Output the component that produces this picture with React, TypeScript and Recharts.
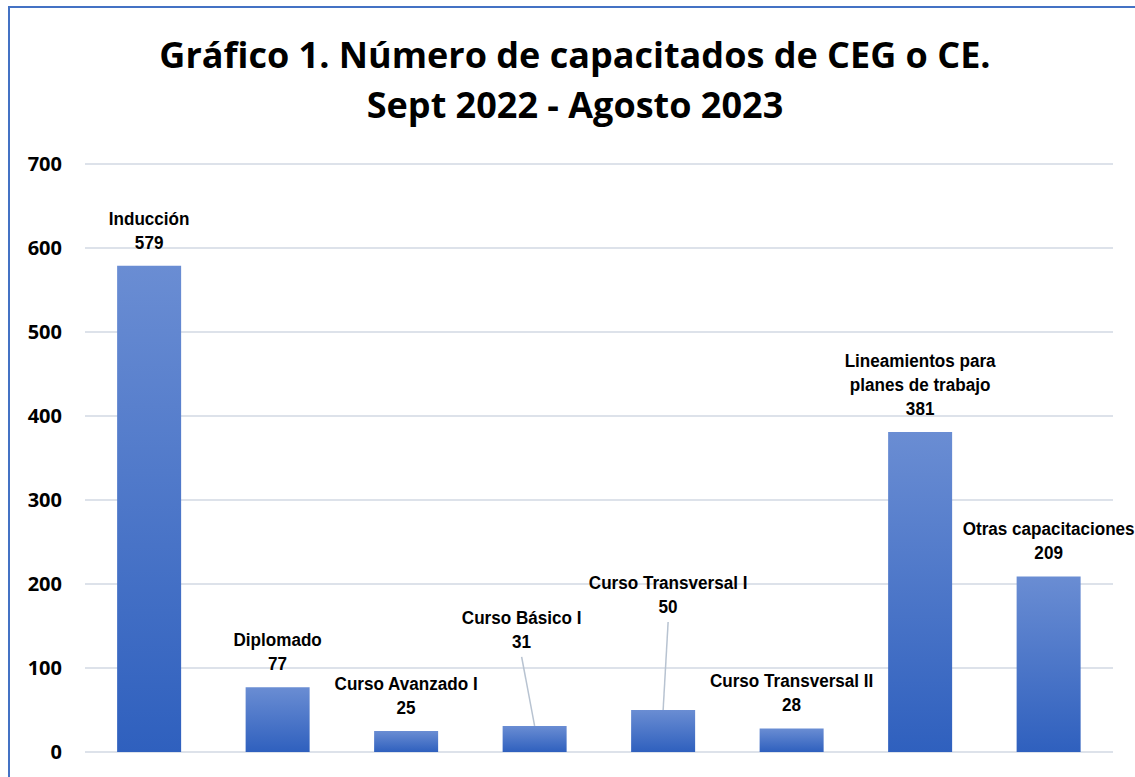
import { Bar, BarChart, CartesianGrid, LabelList, XAxis, YAxis } from "recharts";

const CATEGORIES = [
  "Inducción",
  "Diplomado",
  "Curso Avanzado I",
  "Curso Básico I",
  "Curso Transversal I",
  "Curso Transversal II",
  "Lineamientos para planes de trabajo",
  "Otras capacitaciones",
];

const CAPACITADOS = [579, 77, 25, 31, 50, 28, 381, 209];

const Y_TICKS = [0, 100, 200, 300, 400, 500, 600, 700];

const TITLE_LINES = [
  "Gráfico 1. Número de capacitados de CEG o CE.",
  "Sept 2022 - Agosto 2023",
];

const data = CATEGORIES.map((name, i) => ({ name, value: CAPACITADOS[i] }));

// labels that were dragged up in the original, with a leader line back to the bar
const LABEL_NUDGE: Record<string, [number, number]> = {
  "Curso Básico I": [-13, -61],
  "Curso Transversal I": [5, -80],
};

const LABEL_FONT = "'Liberation Sans Narrow', 'Arial Narrow', 'Liberation Sans', Arial, sans-serif";
const AXIS_FONT = "'Open Sans', 'Noto Sans', sans-serif";

function wrapName(name: string): string[] {
  if (name.length <= 22) return [name];
  // "Lineamientos para / planes de trabajo"
  const words = name.split(" ");
  return [words.slice(0, 2).join(" "), words.slice(2).join(" ")];
}

function BarLabel(props: any) {
  const { x, y, width, index } = props;
  const name = CATEGORIES[index];
  const value = CAPACITADOS[index];
  const [dx, dy] = LABEL_NUDGE[name] ?? [0, 0];
  const barCx = Number(x) + Number(width) / 2;
  const cx = barCx + dx;
  const lines = [...wrapName(name), String(value)];
  const lastCenter = Number(y) - 24 + dy;
  return (
    <g>
      {dy !== 0 && (
        <line
          x1={cx}
          y1={lastCenter + 16}
          x2={barCx}
          y2={Number(y)}
          stroke="#b8c3d1"
          strokeWidth={1.5}
        />
      )}
      {lines.map((line, i) => (
        <text
          key={i}
          x={0}
          y={lastCenter - (lines.length - 1 - i) * 24 + 7}
          transform={`translate(${cx},0) scale(0.9,1)`}
          textAnchor="middle"
          fontFamily={LABEL_FONT}
          fontWeight="bold"
          fontSize={19}
          fill="#000"
        >
          {line}
        </text>
      ))}
    </g>
  );
}

export default function App() {
  return (
    <div
      style={{
        position: "absolute",
        left: 0,
        top: 0,
        width: 1135,
        height: 777,
        overflow: "hidden",
        background: "#fff",
      }}
    >
      <div
        style={{
          position: "absolute",
          left: 8,
          top: 6,
          width: 1300,
          height: 900,
          borderLeft: "2px solid #4472c4",
          borderTop: "2px solid #4472c4",
        }}
      />
      <svg
        width={1135}
        height={140}
        style={{ position: "absolute", left: 0, top: 0, pointerEvents: "none" }}
      >
        {TITLE_LINES.map((t, i) => (
          <text
            key={t}
            x={575}
            y={68 + i * 50}
            textAnchor="middle"
            fontFamily={AXIS_FONT}
            fontWeight="bold"
            fontSize={36}
            fill="#000"
          >
            {t}
          </text>
        ))}
      </svg>
      <BarChart
        width={1135}
        height={777}
        data={data}
        margin={{ top: 164, right: 22, bottom: 25, left: 0 }}
        barCategoryGap="25%"
      >
        <defs>
          <linearGradient id="barGrad" x1="0" y1="0" x2="0" y2="1">
            <stop offset="0%" stopColor="#6a8dd3" />
            <stop offset="100%" stopColor="#2f60be" />
          </linearGradient>
        </defs>
        <CartesianGrid vertical={false} stroke="#dde2ea" strokeWidth={2} />
        <XAxis dataKey="name" hide />
        <YAxis
          domain={[0, 700]}
          ticks={Y_TICKS}
          width={85}
          axisLine={false}
          tickLine={false}
          tickSize={0}
          tickMargin={23}
          tick={{ fontFamily: AXIS_FONT, fontWeight: "bold", fontSize: 20, fill: "#000" }}
        />
        <Bar dataKey="value" fill="url(#barGrad)" isAnimationActive={false}>
          <LabelList dataKey="value" content={BarLabel} />
        </Bar>
      </BarChart>
    </div>
  );
}
